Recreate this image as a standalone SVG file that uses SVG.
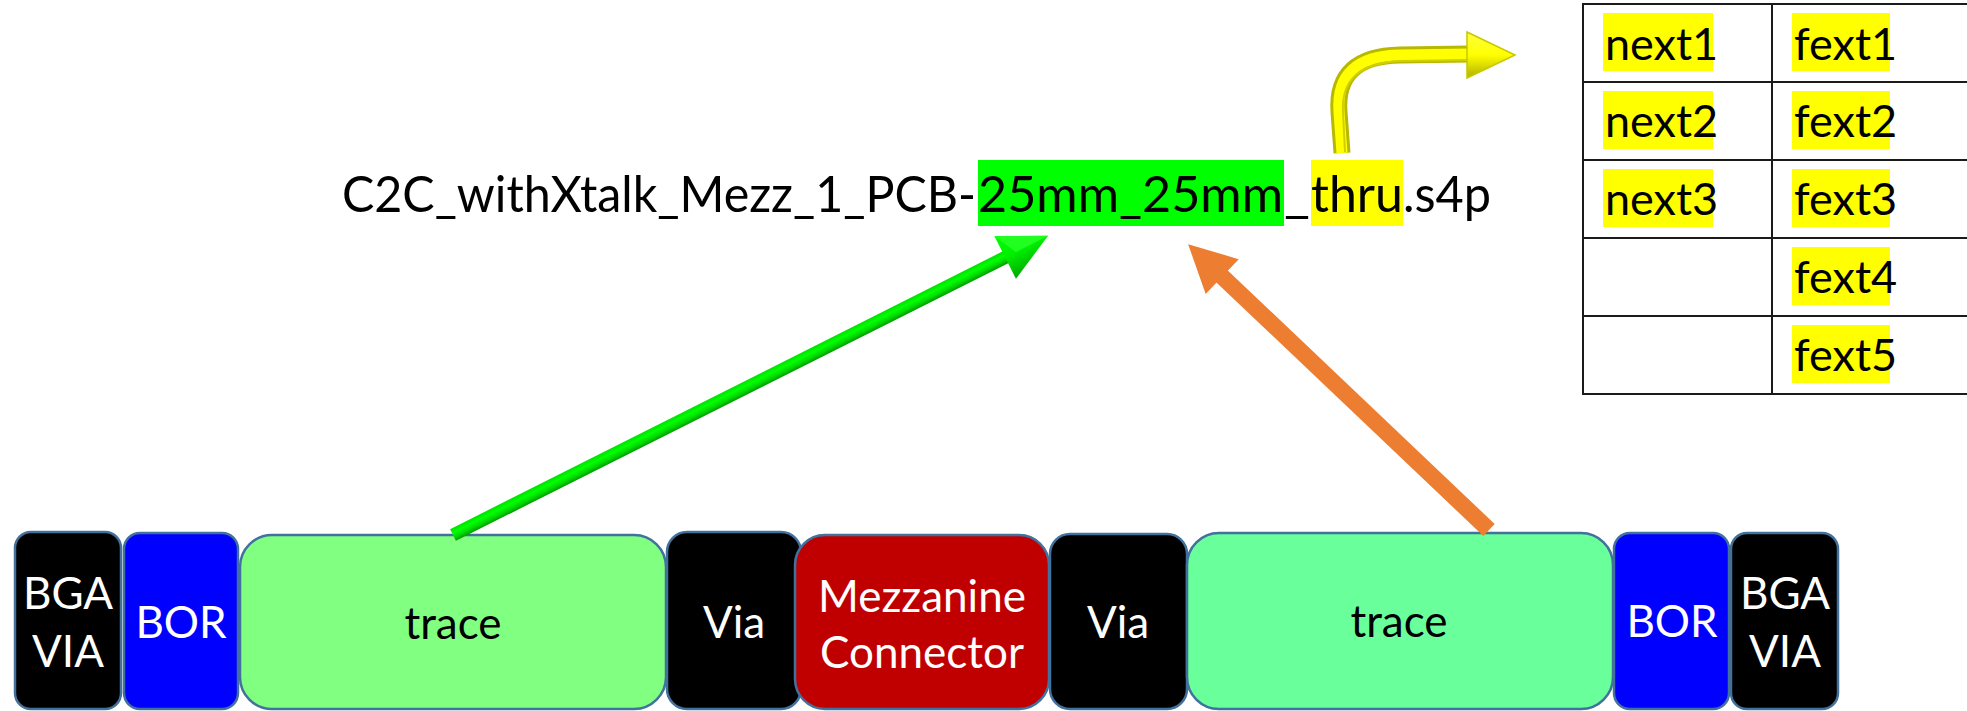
<svg xmlns="http://www.w3.org/2000/svg" width="1967" height="711" viewBox="0 0 1967 711">
<defs>
<style>
.box{stroke:#41719C;stroke-width:2.5}
.lbl{font-family:Lato,"Open Sans",sans-serif;font-size:44px;text-anchor:middle}
.w{fill:#FFFFFF}
.k{fill:#000000}
.title{font-family:Lato,"Open Sans",sans-serif;font-size:50px;fill:#000000}
.cell{font-family:Lato,"Open Sans",sans-serif;font-size:45px;fill:#000000}
.hl{fill:#FFFF00}
.grid{stroke:#1a1a1a;stroke-width:2;fill:none}
</style>
<linearGradient id="gShaft" x1="0" y1="0" x2="0" y2="1">
<stop offset="0" stop-color="#00E000"/>
<stop offset="0.35" stop-color="#00FF00"/>
<stop offset="0.7" stop-color="#00D800"/>
<stop offset="1" stop-color="#009A00"/>
</linearGradient>
<linearGradient id="gHead" x1="0" y1="0" x2="0" y2="1">
<stop offset="0" stop-color="#00FF00"/>
<stop offset="0.5" stop-color="#00F000"/>
<stop offset="1" stop-color="#00A800"/>
</linearGradient>
<linearGradient id="yHead" x1="0" y1="0" x2="0" y2="1">
<stop offset="0" stop-color="#FFFF40"/>
<stop offset="0.5" stop-color="#FFFF00"/>
<stop offset="1" stop-color="#B0B000"/>
</linearGradient>
</defs>
<rect width="1967" height="711" fill="#FFFFFF"/>

<g id="table">
<rect class="hl" x="1603" y="13" width="110" height="58"/>
<rect class="hl" x="1603" y="91" width="110" height="58"/>
<rect class="hl" x="1603" y="169" width="110" height="58"/>
<rect class="hl" x="1792" y="13" width="98" height="58"/>
<rect class="hl" x="1792" y="91" width="98" height="58"/>
<rect class="hl" x="1792" y="169" width="98" height="58"/>
<rect class="hl" x="1792" y="247" width="98" height="58"/>
<rect class="hl" x="1792" y="325" width="98" height="58"/>
<text class="cell" x="1605" y="60">next1</text>
<text class="cell" x="1605" y="137">next2</text>
<text class="cell" x="1605" y="215">next3</text>
<text class="cell" x="1794" y="60">fext1</text>
<text class="cell" x="1794" y="137">fext2</text>
<text class="cell" x="1794" y="215">fext3</text>
<text class="cell" x="1794" y="293">fext4</text>
<text class="cell" x="1794" y="371">fext5</text>
<path class="grid" d="M1583 4H1967M1583 82H1967M1583 160H1967M1583 238H1967M1583 316H1967M1583 394H1967M1583 3V395M1772 3V395"/>
</g>

<g id="filename">
<rect x="978" y="160" width="306" height="66" fill="#00FF00"/>
<rect x="1311" y="160" width="92" height="66" fill="#FFFF00"/>
<text class="title" y="212"><tspan x="342" textLength="634" lengthAdjust="spacingAndGlyphs">C2C_withXtalk_Mezz_1_PCB-</tspan><tspan x="978" textLength="305" lengthAdjust="spacingAndGlyphs">25mm_25mm</tspan><tspan x="1284" textLength="26" lengthAdjust="spacingAndGlyphs">_</tspan><tspan x="1311" textLength="92" lengthAdjust="spacingAndGlyphs">thru</tspan><tspan x="1403" textLength="88" lengthAdjust="spacingAndGlyphs">.s4p</tspan></text>
</g>

<g id="bga-via-1"><rect class="box" x="15" y="532" width="106" height="177" rx="16" fill="#000000"/><text class="lbl w" x="68" y="609">BGA</text><text class="lbl w" x="68" y="667">VIA</text></g>
<g id="bor-1"><rect class="box" x="124" y="533" width="114" height="176" rx="16" fill="#0000FF"/><text class="lbl w" x="181" y="638">BOR</text></g>
<g id="trace-1"><rect class="box" x="240" y="535" width="426" height="174" rx="32" fill="#80FF80"/><text class="lbl k" x="453" y="639">trace</text></g>
<g id="via-1"><rect class="box" x="667" y="532" width="134" height="177" rx="20" fill="#000000"/><text class="lbl w" x="734" y="638">Via</text></g>
<g id="mezzanine"><rect class="box" x="795" y="535" width="254" height="174" rx="30" fill="#C00000"/><text class="lbl w" x="922" y="612">Mezzanine</text><text class="lbl w" x="922" y="668">Connector</text></g>
<g id="via-2"><rect class="box" x="1050" y="534" width="137" height="175" rx="20" fill="#000000"/><text class="lbl w" x="1118" y="638">Via</text></g>
<g id="trace-2"><rect class="box" x="1187" y="533" width="426" height="176" rx="32" fill="#69FF9B"/><text class="lbl k" x="1399" y="637">trace</text></g>
<g id="bor-2"><rect class="box" x="1614" y="533" width="115" height="176" rx="16" fill="#0000FF"/><text class="lbl w" x="1672" y="637">BOR</text></g>
<g id="bga-via-2"><rect class="box" x="1731" y="533" width="107" height="176" rx="16" fill="#000000"/><text class="lbl w" x="1785" y="609">BGA</text><text class="lbl w" x="1785" y="667">VIA</text></g>

<g id="connectors">
<g id="arrow-green" transform="translate(453 535) rotate(-26.69)">
<rect x="0" y="-6.5" width="622" height="13" fill="url(#gShaft)"/>
<polygon points="618,-24 666,0 618,24" fill="url(#gHead)"/>
<polygon points="618,-24 666,0 630,0" fill="#20FF20"/>
</g>
<g id="arrow-orange" transform="translate(1489 530) rotate(-136.47)">
<rect x="0" y="-8.25" width="370" height="16.5" fill="#ED7D31"/>
<polygon points="368,-24 415,0 368,24" fill="#ED7D31"/>
</g>
<g id="arrow-yellow">
<path d="M1342 153 L1339 112 Q1335 56 1400 55 L1470 54" fill="none" stroke="#B8B800" stroke-width="17"/>
<path d="M1342 153 L1339 112 Q1335 56 1400 55 L1470 54" fill="none" stroke="#FFFF00" stroke-width="11"/>
<path d="M1345 152 L1343 112 Q1340 64 1400 61 L1468 60" fill="none" stroke="#D0D000" stroke-width="2"/>
<polygon points="1467,32 1515,55 1467,78" fill="url(#yHead)" stroke="#C8C800" stroke-width="1.5"/>
</g>
</g>
</svg>
